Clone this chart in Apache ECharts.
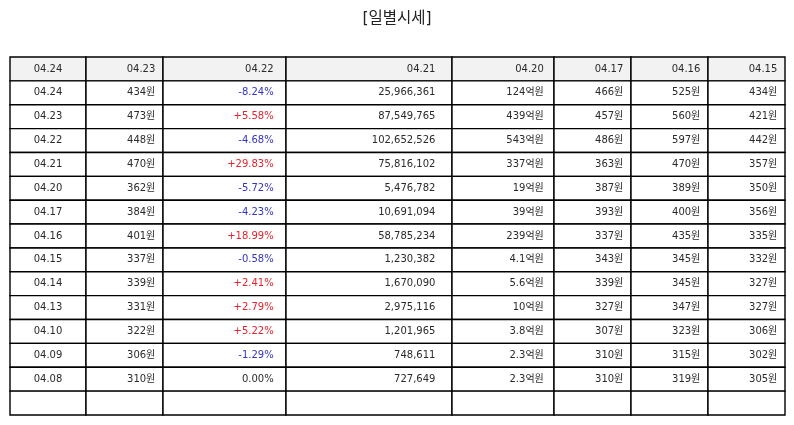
<!DOCTYPE html>
<html>
<head>
<meta charset="utf-8">
<script src="https://cdn.jsdelivr.net/npm/echarts@6/dist/echarts.min.js"></script>
<style>
  html, body { margin: 0; padding: 0; background: #fff; }
  #chart-container { width: 794px; height: 425px; }
</style>
</head>
<body>
<div id="chart-container"></div>
<script>
// header labels (as shown in the source table)
var headers = ['04.24', '04.23', '04.22', '04.21', '04.20', '04.17', '04.16', '04.15'];
var dates = ['04.24', '04.23', '04.22', '04.21', '04.20', '04.17', '04.16', '04.15', '04.14', '04.13', '04.10', '04.09', '04.08'];
var closes = [434, 473, 448, 470, 362, 384, 401, 337, 339, 331, 322, 306, 310];
var changes = [-8.24, 5.58, -4.68, 29.83, -5.72, -4.23, 18.99, -0.58, 2.41, 2.79, 5.22, -1.29, 0.00];
var volumes = [25966361, 87549765, 102652526, 75816102, 5476782, 10691094, 58785234, 1230382, 1670090, 2975116, 1201965, 748611, 727649];
var amounts = ['124', '439', '543', '337', '19', '39', '239', '4.1', '5.6', '10', '3.8', '2.3', '2.3'];
var opens = [466, 457, 486, 363, 387, 393, 337, 343, 339, 327, 307, 310, 310];
var highs = [525, 560, 597, 470, 389, 400, 435, 345, 345, 347, 323, 315, 319];
var lows = [434, 421, 442, 357, 350, 356, 335, 332, 327, 327, 306, 302, 305];

// layout: column edges in axis units (pixels of the table width)
var colEdges = [0, 76, 153, 276, 442, 544, 621, 698, 775];

var dom = document.getElementById('chart-container');
var myChart = echarts.init(dom, null, { renderer: 'canvas' });

var RED = '#e4232c', BLUE = '#3434c4', TEXT = '#2a2a2a';

function fmtChange(v) {
  return (v > 0 ? '+' : '') + v.toFixed(2) + '%';
}

// build cells: [col, row], with text and colour
var cells = [];
var cellInfo = [];
headers.forEach(function (h, c) {
  cells.push([c, 0]);
  cellInfo.push({ text: h, color: TEXT, header: true });
});
var nRows = dates.length;
for (var i = 0; i < nRows; i++) {
  var row = [
    { text: dates[i], color: TEXT },
    { text: closes[i] + '원', color: TEXT },
    { text: fmtChange(changes[i]), color: changes[i] > 0 ? RED : (changes[i] < 0 ? BLUE : TEXT) },
    { text: volumes[i].toLocaleString('en-US'), color: TEXT },
    { text: amounts[i] + '억원', color: TEXT },
    { text: opens[i] + '원', color: TEXT },
    { text: highs[i] + '원', color: TEXT },
    { text: lows[i] + '원', color: TEXT }
  ];
  row.forEach(function (cell, c) {
    cells.push([c, i + 1]);
    cellInfo.push(cell);
  });
}
// trailing empty row
for (var c = 0; c < headers.length; c++) {
  cells.push([c, nRows + 1]);
  cellInfo.push({ text: '', color: TEXT });
}
var totalRows = nRows + 2;

var option = {
  animation: false,
  title: {
    text: '[일별시세]',
    left: 'center',
    top: 6,
    textStyle: { fontFamily: '"DejaVu Sans", "Noto Sans CJK KR"', fontSize: 15.5, fontWeight: 'normal', color: '#222' }
  },
  grid: { left: 10, top: 57, width: 775, height: 358 },
  xAxis: { type: 'value', min: 0, max: 775, show: false },
  yAxis: { type: 'value', min: 0, max: totalRows, inverse: true, show: false },
  series: [{
    type: 'custom',
    data: cells,
    renderItem: function (params, api) {
      var c = api.value(0), r = api.value(1);
      var info = cellInfo[params.dataIndex];
      var p0 = api.coord([colEdges[c], r]);
      var p1 = api.coord([colEdges[c + 1], r + 1]);
      var w = p1[0] - p0[0], h = p1[1] - p0[1];
      var center = c === 0;
      return {
        type: 'group',
        children: [{
          type: 'rect',
          shape: { x: p0[0], y: p0[1], width: w, height: h },
          style: { fill: info.header ? '#f2f2f2' : '#fff', stroke: '#000', lineWidth: 1.4 }
        }, {
          type: 'text',
          z2: 10,
          style: {
            text: info.text,
            x: center ? p0[0] + w / 2 : p1[0] - w * 0.1,
            y: p0[1] + h / 2,
            align: center ? 'center' : 'right',
            verticalAlign: 'middle',
            fill: info.color,
            font: '10px "DejaVu Sans", "Noto Sans CJK KR", sans-serif'
          }
        }]
      };
    }
  }]
};

myChart.setOption(option);
window.addEventListener('resize', myChart.resize);
</script>
</body>
</html>
